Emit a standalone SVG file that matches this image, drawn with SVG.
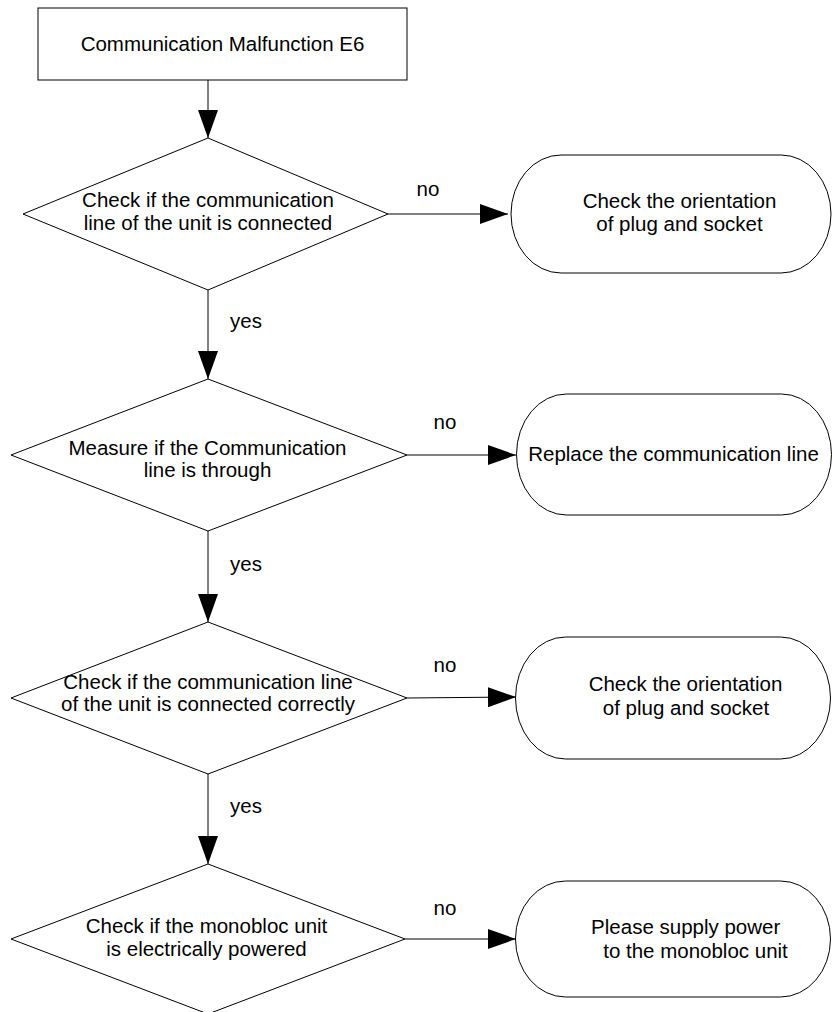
<svg xmlns="http://www.w3.org/2000/svg" width="832" height="1012" viewBox="0 0 832 1012">
<style>
.shape{fill:#fff;stroke:#000;stroke-width:1}
.conn{fill:none;stroke:#000;stroke-width:1}
text{font-family:"Liberation Sans",Arial,sans-serif;font-size:20.5px;fill:#000}
.c{text-anchor:middle}
</style>
<defs>
<marker id="arr" markerUnits="userSpaceOnUse" markerWidth="28" markerHeight="20" refX="28" refY="10" orient="auto" viewBox="0 0 28 20">
<path d="M0,0 L28,10 L0,20 z" fill="#000"/>
</marker>
</defs>
<rect width="832" height="1012" fill="#fff"/>
<g id="connectors">
<line class="conn" x1="208" y1="80" x2="208" y2="138" marker-end="url(#arr)"/>
<line class="conn" x1="208" y1="290" x2="208" y2="379" marker-end="url(#arr)"/>
<line class="conn" x1="208" y1="531" x2="208" y2="622" marker-end="url(#arr)"/>
<line class="conn" x1="208" y1="774" x2="208" y2="864" marker-end="url(#arr)"/>
<line class="conn" x1="388" y1="214" x2="508" y2="214" marker-end="url(#arr)"/>
<line class="conn" x1="407" y1="455" x2="516" y2="455" marker-end="url(#arr)"/>
<line class="conn" x1="407" y1="698" x2="516" y2="697" marker-end="url(#arr)"/>
<line class="conn" x1="405" y1="939" x2="516" y2="939" marker-end="url(#arr)"/>
<text x="428" y="196" class="c">no</text>
<text x="445" y="429" class="c">no</text>
<text x="445" y="672" class="c">no</text>
<text x="445" y="915" class="c">no</text>
<text x="230" y="328">yes</text>
<text x="230" y="571">yes</text>
<text x="230" y="813">yes</text>
</g>
<g id="start">
<rect class="shape" x="38" y="8" width="369" height="72"/>
<text x="222.5" y="51" class="c">Communication Malfunction E6</text>
</g>
<g id="d1">
<polygon class="shape" points="208,138 388,214 208,290 23,214"/>
<text x="208" y="207" class="c">Check if the communication</text>
<text x="208" y="230" class="c">line of the unit is connected</text>
</g>
<g id="d2">
<polygon class="shape" points="208,379 407,455 208,531 11,455"/>
<text x="207.5" y="455" class="c">Measure if the Communication</text>
<text x="207.5" y="477" class="c">line is through</text>
</g>
<g id="d3">
<polygon class="shape" points="208,622 407,698 208,774 11,698"/>
<text x="208" y="689" class="c">Check if the communication line</text>
<text x="208" y="711" class="c">of the unit is connected correctly</text>
</g>
<g id="d4">
<polygon class="shape" points="208,864 405,939 208,1014 11,939"/>
<text x="206.5" y="933" class="c">Check if the monobloc unit</text>
<text x="206.5" y="956" class="c">is electrically powered</text>
</g>
<g id="t1">
<rect class="shape" x="511" y="155" width="320" height="118" rx="50" ry="59"/>
<text x="679.5" y="208" class="c">Check the orientation</text>
<text x="679.5" y="231" class="c">of plug and socket</text>
</g>
<g id="t2">
<rect class="shape" x="516.5" y="394" width="315" height="121" rx="50" ry="60.5"/>
<text x="673.5" y="461" class="c">Replace the communication line</text>
</g>
<g id="t3">
<rect class="shape" x="515.5" y="637" width="315" height="122" rx="50" ry="61"/>
<text x="685.5" y="691" class="c">Check the orientation</text>
<text x="686" y="715" class="c">of plug and socket</text>
</g>
<g id="t4">
<rect class="shape" x="515.5" y="881" width="315" height="116" rx="50" ry="58"/>
<text x="685.7" y="934" class="c">Please supply power</text>
<text x="695.5" y="958" class="c">to the monobloc unit</text>
</g>
</svg>
